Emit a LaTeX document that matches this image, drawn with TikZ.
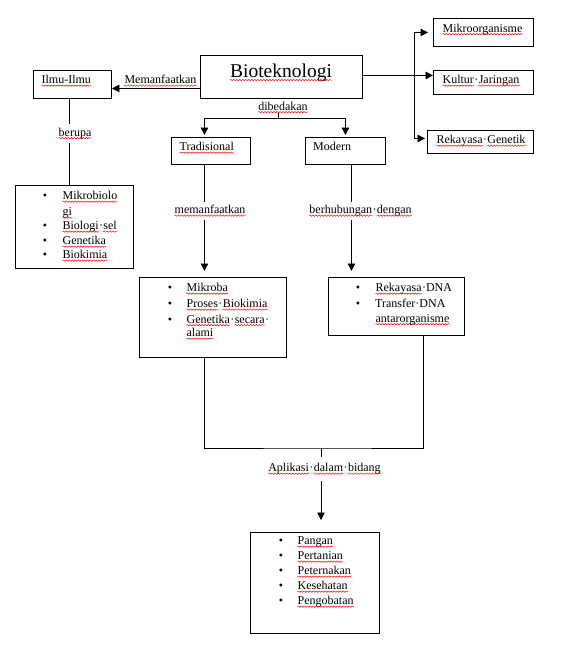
\documentclass[tikz,border=0pt]{standalone}
\usepackage{fontspec}
\setmainfont{Liberation Serif}
\usetikzlibrary{arrows.meta,decorations.pathmorphing}
\tikzset{
  squig/.style={draw=red, fill=none, line width=0.45pt, decorate,
    decoration={snake, amplitude=0.7pt, segment length=3pt}},
}
\newcommand\sqgen[2]{\tikz[baseline=(w.base)]{\node[inner sep=0pt, draw=none, fill=none, anchor=base] (w) {#2}; \path[squig] ([yshift=-#1]w.base west) -- ([yshift=-#1]w.base east);}}
\newcommand\sq[1]{\sqgen{1.9pt}{#1}}
\newcommand\sqL[1]{\sqgen{2.6pt}{#1}}
\tikzset{
  box/.style={draw, line width=0.9pt, rectangle, inner sep=0pt, anchor=north west},
  txt/.style={inner sep=0pt, font=\fontsize{12}{14}\selectfont, text height=8pt, text depth=2.5pt},
  itm/.style={txt, anchor=west},
  lbl/.style={txt, fill=white, inner xsep=2pt, inner ysep=4pt},
  arr/.style={-{Triangle[length=7.5pt,width=7.5pt]}, line width=0.8pt},
  ln/.style={line width=0.8pt},
}
\begin{document}
\begin{tikzpicture}[x=1pt,y=-1pt]
\useasboundingbox (0,0) rectangle (572,648);
\fill[white] (0,0) rectangle (572,648);
% boxes
\node[box, minimum width=162pt, minimum height=43pt] (bio) at (200,55) {};
\node[box, minimum width=78pt, minimum height=28pt] (ilmu) at (33,70) {};
\node[box, minimum width=79pt, minimum height=27pt] (trad) at (171,137) {};
\node[box, minimum width=80pt, minimum height=27pt] (modern) at (305,137) {};
\node[box, minimum width=100pt, minimum height=28pt] (mikro) at (433,18) {};
\node[box, minimum width=100pt, minimum height=24pt] (kultur) at (433,70) {};
\node[box, minimum width=106pt, minimum height=23pt] (rek) at (427,130) {};
\node[box, minimum width=118pt, minimum height=83pt] (kiri) at (15,185) {};
\node[box, minimum width=147pt, minimum height=80pt] (tengah) at (139,277) {};
\node[box, minimum width=136pt, minimum height=58pt] (kanan) at (328,277) {};
\node[box, minimum width=129pt, minimum height=101pt] (bawah) at (250,532) {};
% box titles
\node[inner sep=0pt, font=\fontsize{19.5}{22}\selectfont, anchor=base] (tbio) at (281,77.5) {\sqL{Bioteknologi}};
\node[itm] (tilmu) at (41,81) {\sq{Ilmu-Ilmu}};
\node[itm] (ttrad) at (179,148) {\sq{Tradisional}};
\node[itm] (tmod) at (313,148) {Modern};
\node[itm] (tmikro) at (442,29.5) {\sq{Mikroorganisme}};
\node[itm] (tkultur) at (442,81) {\sq{Kultur}·\sq{Jaringan}};
\node[itm] (trek) at (436,141) {\sq{Rekayasa}·\sq{Genetik}};
% connectors top
\coordinate (mA) at ([yshift=-11.5pt]bio.west);
\draw[arr] (mA) -- (mA -| ilmu.east);
\node[txt] (lmem) at (160.5,81) {\sq{Memanfaatkan}};
\node[txt] (ldib) at (283,107.5) {\sq{dibedakan}};
\coordinate (j1) at (278,118);
\draw[ln] (ldib.south -| j1) -- (j1);
\draw[arr, shorten >=2pt] (j1) -| ([xshift=-6.5pt]trad.north);
\draw[arr, shorten >=2pt] (j1) -| (modern.north);
\coordinate (kA) at ([yshift=7pt]kultur.west);
\draw[arr] (bio.east |- kA) -- (kA);
\coordinate (v1) at (414,75);
\draw[arr, shorten >=5pt] (v1) |- (mikro.west);
\draw[arr, shorten >=2pt] (v1) |- ([yshift=3.5pt]rek.west);
% ilmu-ilmu
\draw[ln] ([xshift=-3pt]ilmu.south) -- ([xshift=-3pt]ilmu.south |- kiri.north);
\node[lbl] (lber) at (75,133.5) {\sq{berupa}};
% tradisional / modern
\draw[arr, shorten >=6pt] ([xshift=-6.5pt]trad.south) -- ([xshift=-6.5pt]trad.south |- tengah.north);
\node[lbl] (lmem2) at (210,211) {\sq{memanfaatkan}};
\draw[arr, shorten >=6pt] ([xshift=6pt]modern.south) -- ([xshift=6pt]modern.south |- kanan.north);
\node[lbl] (lhub) at (360.5,211) {\sq{berhubungan}·\sq{dengan}};
% bottom
\coordinate (j2) at (321,448);
\draw[ln] ([xshift=-8.5pt]tengah.south) |- (j2) -| ([xshift=27pt]kanan.south);
\draw[arr, shorten >=12pt] (j2) -- (j2 |- bawah.north);
\node[lbl, inner ysep=7pt] (lapl) at (324.5,469) {\sq{Aplikasi}·\sq{dalam}·\sq{bidang}};
% list kiri
\node[txt] (bk1) at (45,197) {•};
\node[itm] (k1) at (62,197) {\sq{Mikrobiolo}};
\node[itm] (k1b) at (62,213) {\sq{gi}};
\node[txt] (bk2) at (45,227) {•};
\node[itm] (k2) at (62,227) {\sq{Biologi}·\sq{sel}};
\node[txt] (bk3) at (45,242) {•};
\node[itm] (k3) at (62,242) {\sq{Genetika}};
\node[txt] (bk4) at (45,256) {•};
\node[itm] (k4) at (62,256) {\sq{Biokimia}};
% list tengah
\node[txt] (bt1) at (170,289) {•};
\node[itm] (t1) at (186,289) {\sq{Mikroba}};
\node[txt] (bt2) at (170,305) {•};
\node[itm] (t2) at (186,305) {\sq{Proses}·\sq{Biokimia}};
\node[txt] (bt3) at (170,320.5) {•};
\node[itm] (t3) at (186,320.5) {\sq{Genetika}·\sq{secara}·};
\node[itm] (t3b) at (186,334) {\sq{alami}};
% list kanan
\node[txt] (bn1) at (358,289) {•};
\node[itm] (n1) at (375,289) {\sq{Rekayasa}·DNA};
\node[txt] (bn2) at (358,305) {•};
\node[itm] (n2) at (375,305) {Transfer·DNA};
\node[itm] (n2b) at (375,319.5) {\sq{antarorganisme}};
% list bawah
\node[txt] (bb1) at (281,542) {•};
\node[itm] (b1) at (297,542) {\sq{Pangan}};
\node[txt] (bb2) at (281,557) {•};
\node[itm] (b2) at (297,557) {\sq{Pertanian}};
\node[txt] (bb3) at (281,572) {•};
\node[itm] (b3) at (297,572) {\sq{Peternakan}};
\node[txt] (bb4) at (281,587) {•};
\node[itm] (b4) at (297,587) {\sq{Kesehatan}};
\node[txt] (bb5) at (281,602) {•};
\node[itm] (b5) at (297,602) {\sq{Pengobatan}};
\end{tikzpicture}
\end{document}
